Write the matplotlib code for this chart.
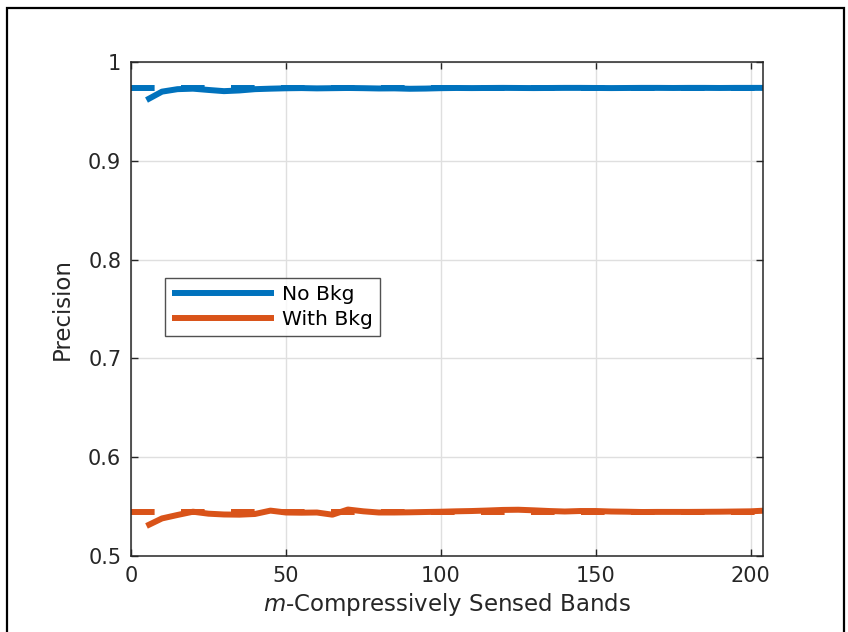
import matplotlib
matplotlib.use("Agg")
import matplotlib.pyplot as plt
from matplotlib.patches import Rectangle

# number of compressively sensed bands
bands = [5, 10, 15, 20, 25, 30, 35, 40, 45, 50,
         55, 60, 65, 70, 75, 80, 85, 90, 95, 100,
         105, 110, 115, 120, 125, 130, 135, 140, 145, 150,
         155, 160, 165, 170, 175, 180, 185, 190, 195, 200, 204]

prec_no_bkg = [0.9615, 0.9700, 0.9725, 0.9730, 0.9717, 0.9705, 0.9712, 0.9725, 0.9730, 0.9734,
               0.9736, 0.9733, 0.9735, 0.9737, 0.9735, 0.9732, 0.9733, 0.9729, 0.9731, 0.9735,
               0.9737, 0.9736, 0.9737, 0.9738, 0.9737, 0.9736, 0.9737, 0.9738, 0.9738, 0.9737,
               0.9736, 0.9737, 0.9738, 0.9738, 0.9737, 0.9738, 0.9738, 0.9737, 0.9738, 0.9738, 0.9738]

prec_with_bkg = [0.5304, 0.5380, 0.5415, 0.5448, 0.5428, 0.5420, 0.5418, 0.5425, 0.5459, 0.5440,
                 0.5438, 0.5440, 0.5418, 0.5470, 0.5452, 0.5440, 0.5440, 0.5442, 0.5445, 0.5448,
                 0.5452, 0.5455, 0.5460, 0.5466, 0.5468, 0.5462, 0.5455, 0.5450, 0.5455, 0.5455,
                 0.5450, 0.5448, 0.5445, 0.5446, 0.5446, 0.5446, 0.5447, 0.5448, 0.5450, 0.5452, 0.5458]

# full-band reference precision
full_no_bkg = 0.974
full_with_bkg = 0.545
x_range = [0, 204]

BLUE = "#0072BD"
ORANGE = "#D95319"
AX_COL = "#262626"

plt.rcParams["font.family"] = "DejaVu Sans"
plt.rcParams["lines.scale_dashes"] = False

fig = plt.figure(figsize=(8.48, 6.32), dpi=100)
ax = fig.add_axes([0.1545, 0.1203, 0.7453, 0.7816])

lw = 4.3
dash = (17, 19)
ax.plot(x_range, [full_no_bkg] * 2, color=BLUE, lw=lw, dashes=dash,
        solid_capstyle="butt", dash_capstyle="butt")
ax.plot(x_range, [full_with_bkg] * 2, color=ORANGE, lw=lw, dashes=dash,
        solid_capstyle="butt", dash_capstyle="butt")
ax.plot(bands, prec_no_bkg, color=BLUE, lw=lw, label="No Bkg", solid_capstyle="butt")
ax.plot(bands, prec_with_bkg, color=ORANGE, lw=lw, label="With Bkg", solid_capstyle="butt")

ax.set_xlim(0, 204)
ax.set_ylim(0.5, 1.0)
ax.set_xticks([0, 50, 100, 150, 200])
ax.set_yticks([0.5, 0.6, 0.7, 0.8, 0.9, 1.0])
ax.set_yticklabels(["0.5", "0.6", "0.7", "0.8", "0.9", "1"])
ax.grid(True, color="#dfdfdf", lw=1.0)
ax.set_axisbelow(True)
ax.tick_params(direction="in", length=5, width=1, colors=AX_COL,
               labelsize=15, top=True, right=True, pad=7)
for sp in ax.spines.values():
    sp.set_color(AX_COL)
    sp.set_linewidth(1.1)

ax.set_xlabel("$\\mathit{m}$-Compressively Sensed Bands", fontsize=16.5, color=AX_COL, labelpad=4)
ax.set_ylabel("Precision", fontsize=16.5, color=AX_COL, labelpad=10)

leg = ax.legend(loc="upper left", bbox_to_anchor=(0.054, 0.5628), borderaxespad=0,
                fontsize=14.6, frameon=True, fancybox=False, handlelength=5.0,
                handletextpad=0.4, borderpad=0.35, labelspacing=0.3)
leg.get_frame().set_edgecolor(AX_COL)
leg.get_frame().set_linewidth(1.0)

# outer frame around the figure
W, H = 848, 632
fig.patches.append(Rectangle((7 / W, -0.05), (844 - 7) / W, 1.05 - 8 / H,
                             transform=fig.transFigure, fill=False,
                             edgecolor="black", lw=1.6))

fig.savefig("out.png", dpi=100)
